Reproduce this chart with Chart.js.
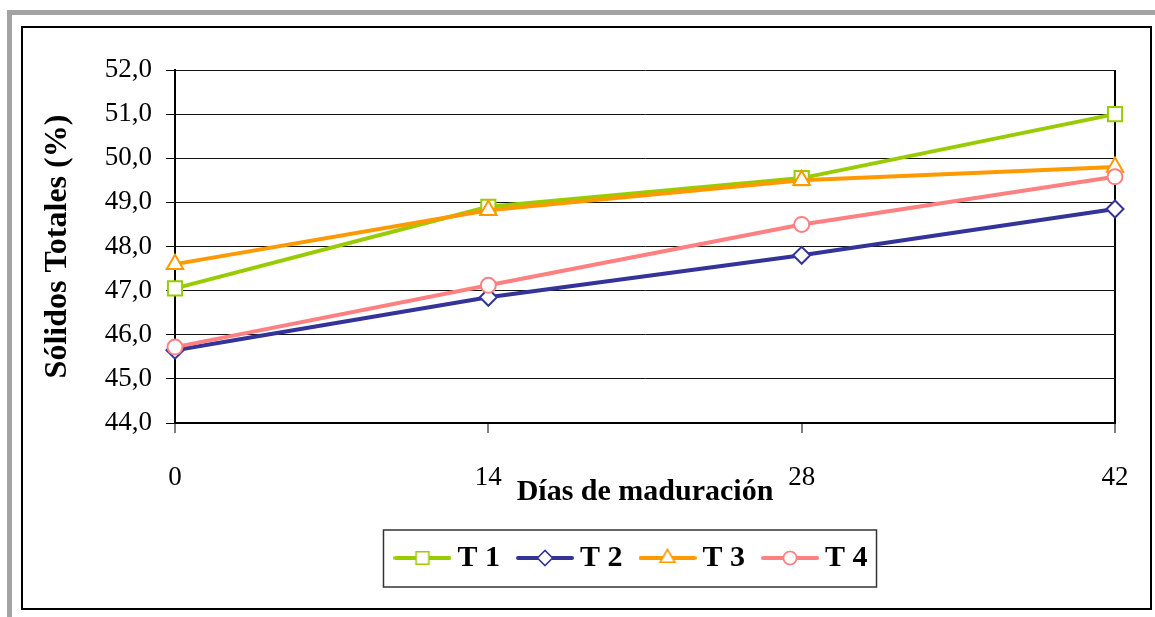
<!DOCTYPE html>
<html>
<head>
<meta charset="utf-8">
<script src="https://cdn.jsdelivr.net/npm/chart.js@4/dist/chart.umd.min.js"></script>
<style>
  body { margin: 0; background: #fff; overflow: hidden; }
  .frameGray { position: absolute; left: 7px; top: 10px; width: 1300px; height: 800px;
    border-left: 5px solid #a3a3a3; border-top: 5px solid #a3a3a3; }
  .frameBlack { position: absolute; left: 21px; top: 26px; width: 1127px; height: 580px;
    border: 2px solid #000; }
  #myChart { position: absolute; left: 0; top: 0; }
</style>
</head>
<body>
<div class="frameGray"></div>
<div class="frameBlack"></div>
<canvas id="myChart" width="1155" height="617"></canvas>
<script>
// datos
const days = ['0', '14', '28', '42'];
const seriesNames = ['T 1', 'T 2', 'T 3', 'T 4'];
const t1 = [47.05, 48.9, 49.55, 51.0];
const t2 = [45.65, 46.85, 47.8, 48.85];
const t3 = [47.6, 48.82, 49.5, 49.8];
const t4 = [45.72, 47.12, 48.5, 49.58];
const yTickLabels = ['44,0', '45,0', '46,0', '47,0', '48,0', '49,0', '50,0', '51,0', '52,0'];

const colors = ['#99cc00', '#333399', '#ff9900', '#ff8080'];
const styles = ['rect', 'rectRot', 'triangle', 'circle'];
const radii = [10, 8.5, 9.5, 7.5];
const iconRadii = [9, 7.5, 8.5, 6.5];

// icono de leyenda: linea + marcador
function makeIcon(i) {
	const c = document.createElement('canvas');
	c.width = 58;
	c.height = 22;
	const g = c.getContext('2d');
	g.strokeStyle = colors[i];
	g.lineWidth = 4;
	g.lineCap = 'round';
	g.beginPath();
	g.moveTo(2, 11);
	g.lineTo(56, 11);
	g.stroke();
	g.fillStyle = '#fff';
	g.lineWidth = 1.5;
	Chart.helpers.drawPoint(g, {pointStyle: styles[i], radius: iconRadii[i], borderWidth: 1.5, rotation: 0}, 29, 11);
	g.fill();
	g.stroke();
	return c;
}

const myChart = document.getElementById('myChart');

const legendBox = {
	id: 'legendBox',
	afterLayout(chart) {
		chart.legend.left -= 10;
		chart.legend.right -= 10;
	},
	afterDraw(chart) {
		const hb = chart.legend.legendHitBoxes;
		if (!hb || !hb.length) return;
		const first = hb[0], last = hb[hb.length - 1];
		const cy = first.top + first.height / 2;
		const ctx = chart.ctx;
		ctx.save();
		ctx.strokeStyle = '#333';
		ctx.lineWidth = 1.5;
		ctx.strokeRect(first.left - 19, cy - 28, last.left + last.width + 9 - (first.left - 19), 57);
		ctx.restore();
	}
};

new Chart(myChart, {
	type: 'line',
	data: {
		labels: days,
		datasets: [t1, t2, t3, t4].map((d, i) => ({
			label: seriesNames[i],
			data: d,
			borderColor: colors[i],
			borderWidth: 4,
			pointStyle: styles[i],
			pointRadius: radii[i],
			pointBorderWidth: 2,
			pointBackgroundColor: '#fff',
			pointBorderColor: colors[i],
			tension: 0,
			order: 4 - i
		}))
	},
	options: {
		responsive: false,
		animation: false,
		layout: { padding: { top: 70, left: 0, right: 40, bottom: 34 } },
		scales: {
			x: {
				offset: false,
				afterFit: s => {
					s.height = 95;
					s.paddingLeft = 0;
					s.paddingRight = 0;
				},
				grid: {
					color: c => c.index === 3 ? '#000' : 'rgba(0,0,0,0)',
					lineWidth: 2,
					tickColor: '#000',
					tickWidth: 1,
					tickLength: 10
				},
				border: { color: '#000', width: 2 },
				ticks: {
					padding: 29,
					color: '#000',
					maxRotation: 0,
					font: { family: 'Liberation Serif', size: 27 }
				},
				title: {
					display: true,
					text: 'Días de maduración',
					color: '#000',
					padding: { top: 0, bottom: 8 },
					font: { family: 'Liberation Serif', size: 30, weight: 'bold' }
				}
			},
			y: {
				min: 44,
				max: 52,
				afterFit: s => { s.width = 175; },
				ticks: {
					stepSize: 1,
					padding: 14,
					color: '#000',
					font: { family: 'Liberation Serif', size: 27 },
					callback: (v, i) => yTickLabels[i]
				},
				grid: { color: '#111', lineWidth: 1, tickLength: 9, tickColor: '#000' },
				border: { color: '#000', width: 2 },
				title: {
					display: true,
					text: 'Sólidos Totales (%)',
					color: '#000',
					padding: { top: 39, bottom: 0 },
					font: { family: 'Liberation Serif', size: 32, weight: 'bold' }
				}
			}
		},
		plugins: {
			tooltip: { enabled: false },
			legend: {
				position: 'bottom',
				fullSize: false,
				labels: {
					usePointStyle: true,
					pointStyleWidth: 40,
					padding: 25,
					color: '#000',
					font: { family: 'Liberation Serif', size: 30, weight: 'bold' },
					sort: (a, b) => a.datasetIndex - b.datasetIndex,
					generateLabels: chart => Chart.defaults.plugins.legend.labels.generateLabels(chart).map(l => {
						l.pointStyle = makeIcon(l.datasetIndex);
						return l;
					})
				}
			}
		}
	},
	plugins: [legendBox]
});
</script>
</body>
</html>
